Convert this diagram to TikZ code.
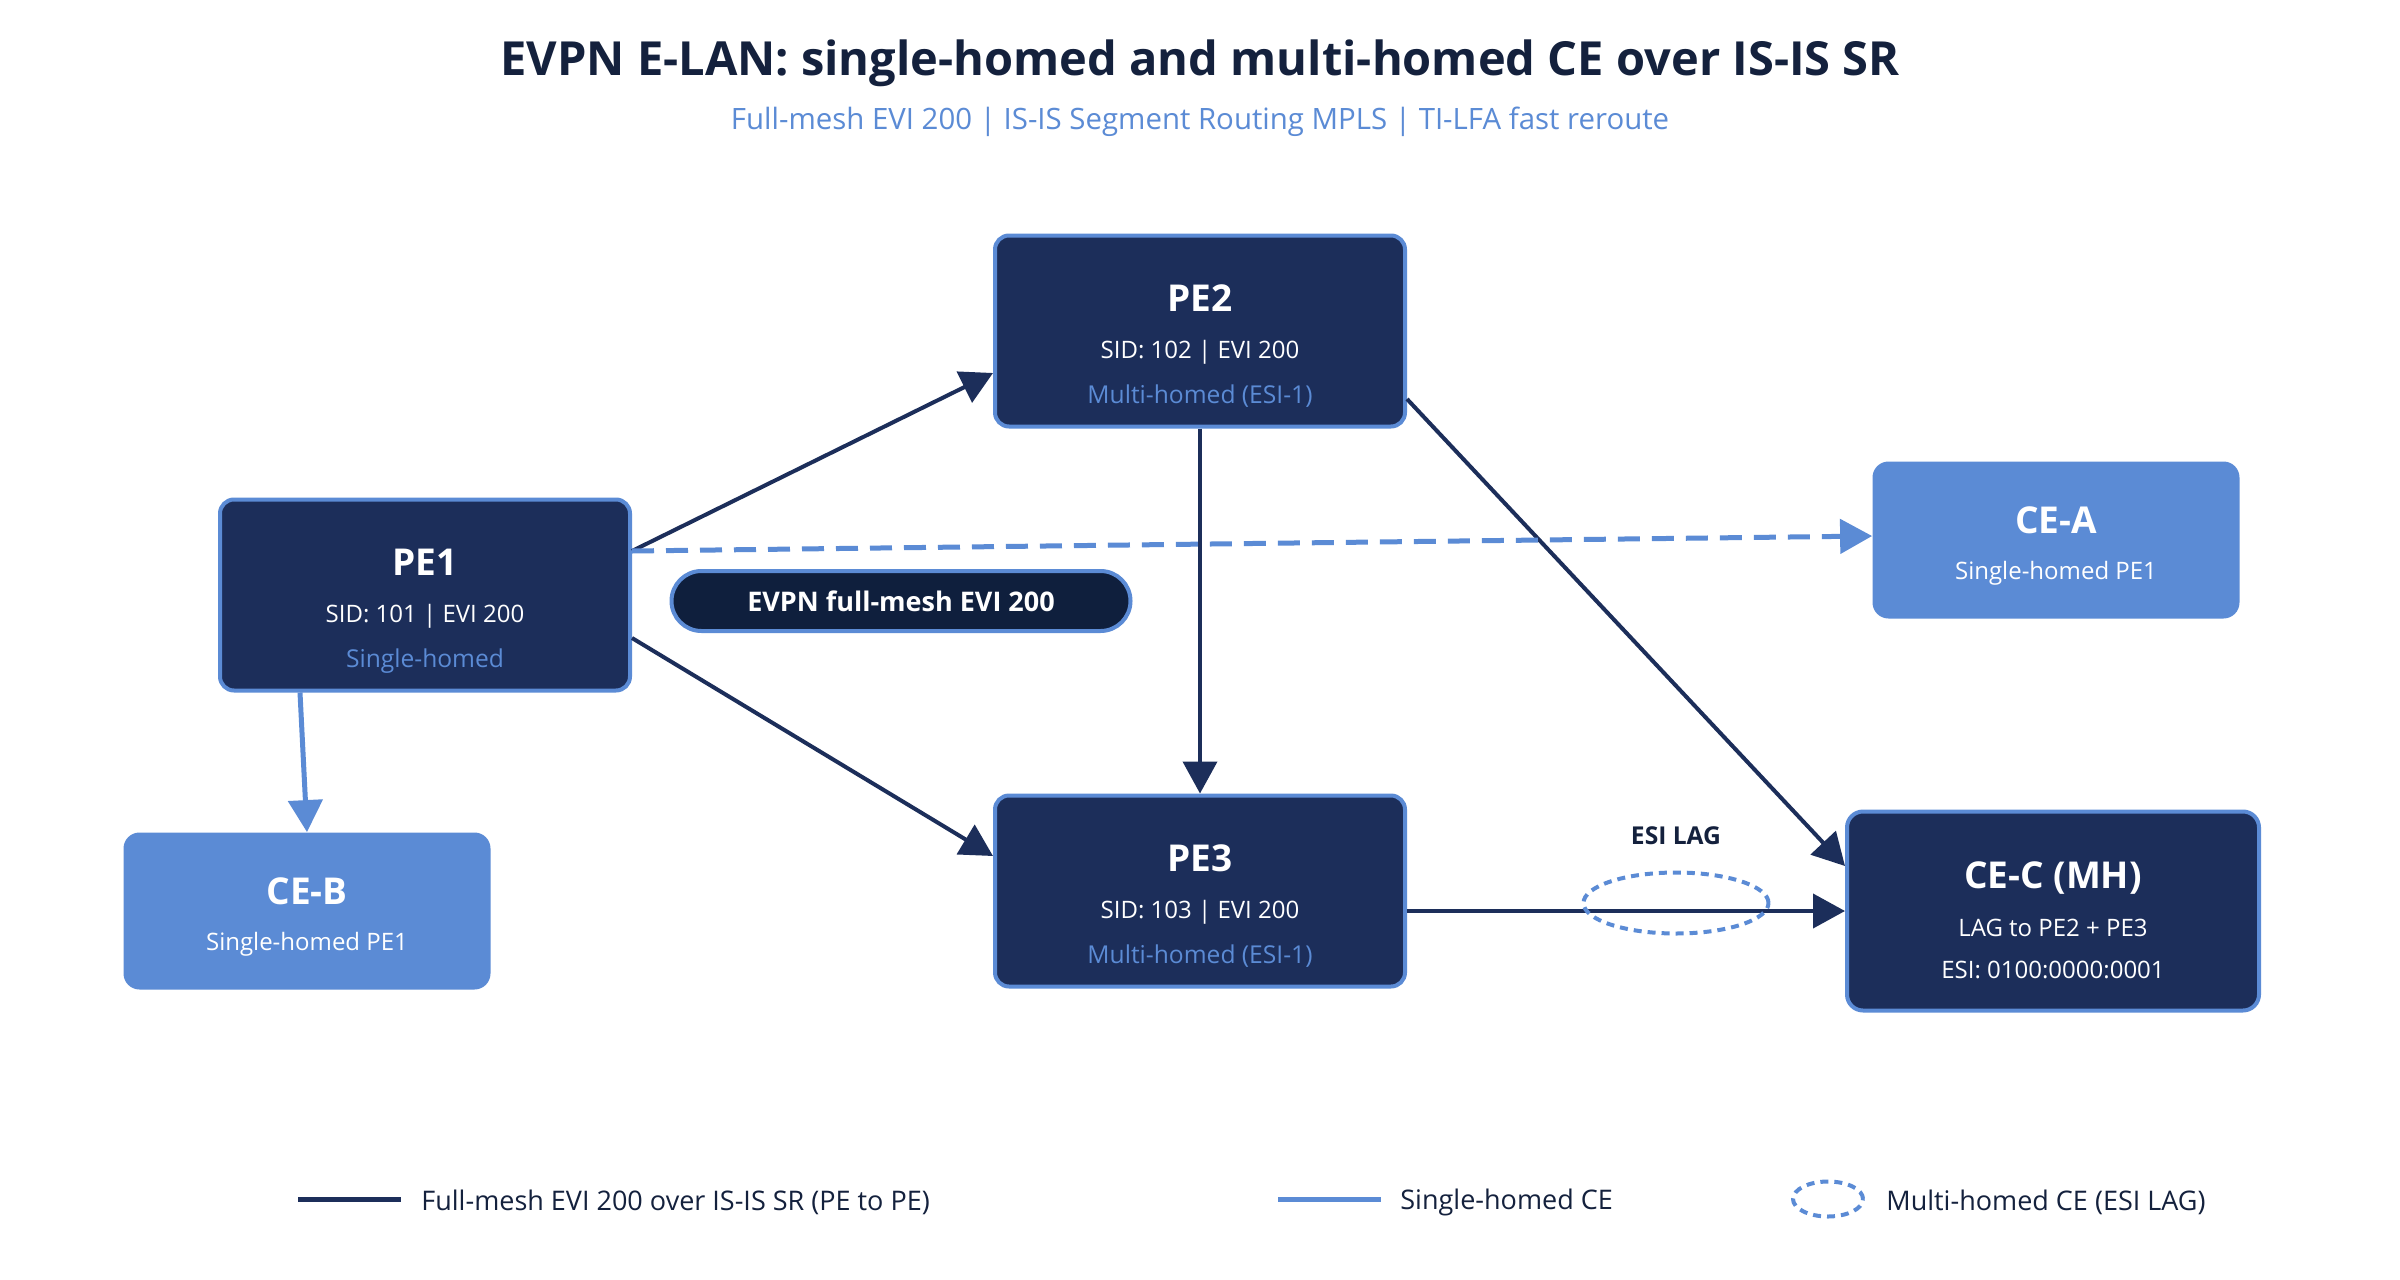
\documentclass[tikz,border=0pt]{standalone}
\usepackage{fontspec}
\setmainfont{Open Sans}
\usetikzlibrary{arrows.meta,shapes.geometric}
\definecolor{navy}{HTML}{1C2E5A}
\definecolor{navydark}{HTML}{0F1F3D}
\definecolor{lblue}{HTML}{5B8BD5}
\definecolor{titlec}{HTML}{14213D}
\tikzset{
  pebox/.style={draw=lblue, line width=2pt, fill=navy, rounded corners=7pt, minimum width=205pt, minimum height=95.5pt, inner sep=0pt},
  cebox/.style={fill=lblue, rounded corners=8pt, minimum width=183.5pt, minimum height=78.5pt, inner sep=0pt},
  cecbox/.style={draw=lblue, line width=2pt, fill=navy, rounded corners=8pt, minimum width=206pt, minimum height=99.5pt, inner sep=0pt},
  pill/.style={draw=lblue, line width=2pt, fill=navydark, rounded corners=15pt, minimum width=229.5pt, minimum height=30pt, inner sep=0pt, text=white, font=\fontsize{13.5}{16}\selectfont\bfseries},
  hdr/.style={anchor=mid, text=white, inner sep=0pt, font=\fontsize{18.5}{22}\selectfont\bfseries},
  sub/.style={anchor=mid, text=white, inner sep=0pt, font=\fontsize{12}{14}\selectfont},
  subb/.style={anchor=mid, text=lblue, inner sep=0pt, font=\fontsize{12.3}{14}\selectfont},
  pe/.style={draw=navy, line width=2pt, -{Triangle[length=16pt,width=17pt]}},
  ce/.style={draw=lblue, line width=2.5pt, -{Triangle[length=16pt,width=17pt]}},
  legtxt/.style={anchor=west, inner sep=0pt, text=titlec, font=\fontsize{13.5}{16}\selectfont},
  dotell/.style={draw=lblue, line width=2pt, dash pattern=on 4pt off 3pt, ellipse, inner sep=0pt},
}
\begin{document}
\begin{tikzpicture}[x=0.5pt,y=-0.5pt]
\useasboundingbox[fill=white] (0,0) rectangle (2400,1280);
% title
\node[anchor=mid, inner sep=0pt, text=titlec, font=\fontsize{23.5}{28}\selectfont\bfseries] (title) at (1200,70) {EVPN E-LAN: single-homed and multi-homed CE over IS-IS SR};
\node[anchor=mid, inner sep=0pt, text=lblue, font=\fontsize{14.7}{17}\selectfont] (subtitle) at (1200,124) {Full-mesh EVI 200 | IS-IS Segment Routing MPLS | TI-LFA fast reroute};
% boxes
\node[pebox] (PE2) at (1200,331) {};
\node[pebox] (PE1) at (425,595) {};
\node[pebox] (PE3) at (1200,891) {};
\node[cebox] (CEA) at (2056,540) {};
\node[cebox] (CEB) at (307,911) {};
\node[cecbox] (CEC) at (2053,911) {};
\node[pill] (pill) at (901,601) {EVPN full-mesh EVI 200};
% connectors
\draw[pe] ([yshift=22pt]PE1.east) -- ([yshift=-21pt]PE2.west);
\draw[pe] ([yshift=-21.5pt]PE1.east) -- ([yshift=17.5pt]PE3.west);
\draw[pe] (PE2.south) -- (PE3.north);
\draw[pe] ([yshift=-34pt]PE2.east) -- ([yshift=22.5pt]CEC.west);
\draw[pe] ([yshift=-10pt]PE3.east) -- (CEC.west);
\draw[ce, dash pattern=on 11pt off 6pt] ([yshift=22pt]PE1.east) -- ([yshift=2pt]CEA.west);
\draw[ce] ([xshift=-62.5pt]PE1.south) -- (CEB.north);
% ESI LAG
\node[dotell, minimum width=92.5pt, minimum height=30.5pt] (lag) at (1676,903) {};
\node[anchor=mid, inner sep=0pt, text=titlec, font=\fontsize{12.3}{14}\selectfont\bfseries] (lagl) at (1676,839) {ESI LAG};
% box texts
\node[hdr] (PE2a) at (1200,306) {PE2};
\node[sub] (PE2b) at (1200,353) {SID: 102 | EVI 200};
\node[subb] (PE2c) at (1200,398) {Multi-homed (ESI-1)};
\node[hdr] (PE1a) at (425,570) {PE1};
\node[sub] (PE1b) at (425,617) {SID: 101 | EVI 200};
\node[subb] (PE1c) at (425,662) {Single-homed};
\node[hdr] (PE3a) at (1200,866) {PE3};
\node[sub] (PE3b) at (1200,913) {SID: 103 | EVI 200};
\node[subb] (PE3c) at (1200,958) {Multi-homed (ESI-1)};
\node[hdr] (CEAa) at (2056,528) {CE-A};
\node[sub] (CEAb) at (2056,574) {Single-homed PE1};
\node[hdr] (CEBa) at (307,899) {CE-B};
\node[sub] (CEBb) at (307,945) {Single-homed PE1};
\node[hdr] (CECa) at (2053,883) {CE-C (MH)};
\node[sub] (CECb) at (2053,931) {LAG to PE2 + PE3};
\node[sub] (CECc) at (2053,973) {ESI: 0100:0000:0001};
% legend
\coordinate (l1a) at (298,1199);
\coordinate (l1b) at (401,1199);
\draw[navy, line width=2.5pt] (l1a) -- (l1b);
\node[legtxt] (l1t) at (421,1202) {Full-mesh EVI 200 over IS-IS SR (PE to PE)};
\coordinate (l2a) at (1278,1199);
\coordinate (l2b) at (1381,1199);
\draw[lblue, line width=2.5pt] (l2a) -- (l2b);
\node[legtxt] (l2t) at (1400,1202) {Single-homed CE};
\node[dotell, minimum width=35pt, minimum height=17.5pt] (l3e) at (1828,1199) {};
\node[legtxt] (l3t) at (1886,1202) {Multi-homed CE (ESI LAG)};
\end{tikzpicture}
\end{document}
